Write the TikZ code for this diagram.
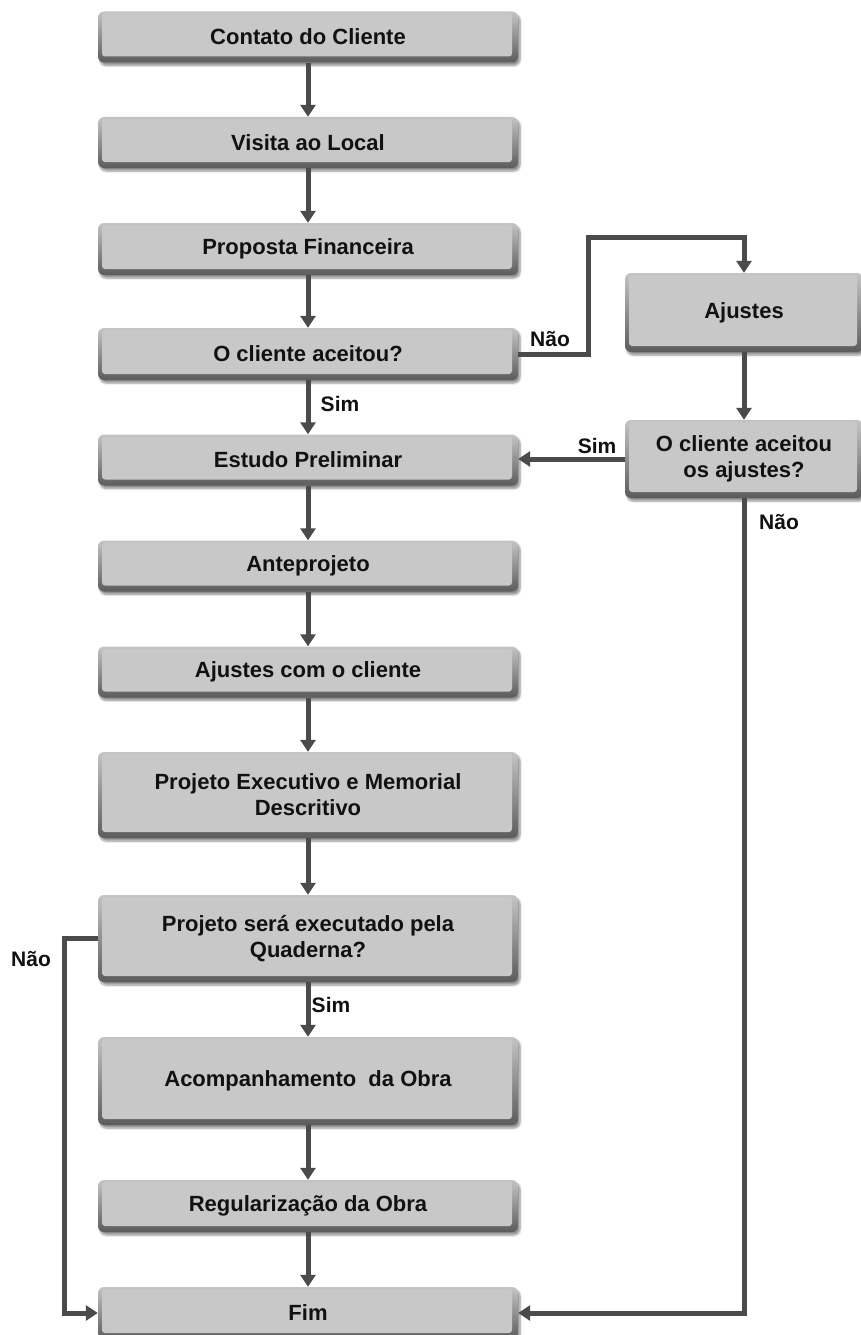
\documentclass[tikz,border=0pt]{standalone}
\usepackage{fontspec}
\setmainfont{Liberation Sans}
\usetikzlibrary{arrows.meta,shadows.blur,calc}
\definecolor{boxface}{HTML}{C8C8C8}
\definecolor{boxtop}{HTML}{C4C4C4}
\definecolor{boxbot}{HTML}{5C5C5C}
\definecolor{conncol}{HTML}{4B4B4B}
\definecolor{txtcol}{HTML}{111111}
\tikzset{
  stepbox/.style={
    rounded corners=6pt, inner sep=0pt, align=center,
    top color=boxtop, bottom color=boxbot,
    text=txtcol, font=\bfseries\fontsize{22}{26}\selectfont,
    blur shadow={shadow xshift=2pt, shadow yshift=-3pt, shadow blur steps=6, shadow opacity=45},
    path picture={
      \fill[boxface, rounded corners=3pt]
        ([xshift=4pt,yshift=6pt]path picture bounding box.south west)
        rectangle ([xshift=-6pt,yshift=-2pt]path picture bounding box.north east);
    }
  },
  mainbox/.style={stepbox, minimum width=420pt},
  sidebox/.style={stepbox, minimum width=238pt},
  conn/.style={draw=conncol, line width=5pt, -{Triangle[width=15pt,length=12pt]}},
  lbl/.style={text=txtcol, font=\bfseries\fontsize{21}{25}\selectfont, inner sep=0pt}
}
\begin{document}
\begin{tikzpicture}[x=1pt,y=-1pt]
\useasboundingbox (0,0) rectangle (860,1335);
\node[mainbox, minimum height=51pt] (b1) at (308,37) {Contato do Cliente};
\node[mainbox, minimum height=51pt] (b2) at (308,142.5) {Visita ao Local};
\node[mainbox, minimum height=52pt] (b3) at (308,249) {Proposta Financeira};
\node[mainbox, minimum height=52pt] (b4) at (308,354) {O cliente aceitou?};
\node[mainbox, minimum height=51pt] (b5) at (308,460) {Estudo Preliminar};
\node[mainbox, minimum height=51pt] (b6) at (308,566) {Anteprojeto};
\node[mainbox, minimum height=51pt] (b7) at (308,672) {Ajustes com o cliente};
\node[mainbox, minimum height=86pt] (b8) at (308,795) {Projeto Executivo e Memorial\\Descritivo};
\node[mainbox, minimum height=87pt] (b9) at (308,938.5) {Projeto será executado pela\\Quaderna?};
\node[mainbox, minimum height=88pt] (b10) at (308,1081) {Acompanhamento~ da Obra};
\node[mainbox, minimum height=52pt] (b11) at (308,1206) {Regularização da Obra};
\node[mainbox, minimum height=52pt] (fim) at (308,1313) {Fim};
\node[sidebox, minimum height=79pt] (aj) at (744,312.5) {Ajustes};
\node[sidebox, minimum height=78pt] (aa) at (744,459) {O cliente aceitou\\os ajustes?};

\draw[conn] (b1) -- (b2);
\draw[conn] (b2) -- (b3);
\draw[conn] (b3) -- (b4);
\draw[conn] (b4) -- (b5);
\draw[conn] (b5) -- (b6);
\draw[conn] (b6) -- (b7);
\draw[conn] (b7) -- (b8);
\draw[conn] (b8) -- (b9);
\draw[conn] (b9) -- (b10);
\draw[conn] (b10) -- (b11);
\draw[conn] (b11) -- (fim);
\draw[conn] (aj) -- (aa);
\draw[conn] (b4.east) -- ++(70,0) |- ($(aj.north)+(0,-35)$) -- (aj.north);
\draw[conn] (aa.west) -- (aa.west -| b5.east);
\draw[conn] (aa.south) |- (fim.east);
\draw[conn] (b9.west) -- ++(-33,0) |- (fim.west);

\node[lbl] (l1) at (550,339) {Não};
\node[lbl] (l2) at (340,404) {Sim};
\node[lbl] (l3) at (597,446) {Sim};
\node[lbl] (l4) at (779,522) {Não};
\node[lbl] (l5) at (31,959) {Não};
\node[lbl] (l6) at (331,1005) {Sim};
\end{tikzpicture}
\end{document}
